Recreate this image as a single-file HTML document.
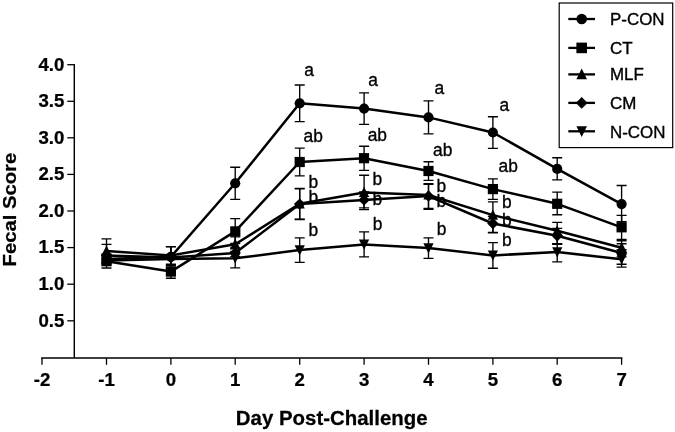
<!DOCTYPE html>
<html><head><meta charset="utf-8"><title>Fecal Score</title>
<style>html,body{margin:0;padding:0;background:#fff}svg{display:block}</style></head>
<body><svg width="675" height="432" viewBox="0 0 675 432">
<rect width="675" height="432" fill="#fff"/>
<g stroke="#000" fill="none" stroke-width="1.45">
<path d="M74.3 64.0V357.9"/>
<path d="M41.2 357.9H622.4"/>
</g>
<g stroke="#000" fill="none" stroke-width="1.3">
<path d="M67.3 320.8H74.3"/>
<path d="M67.3 284.2H74.3"/>
<path d="M67.3 247.6H74.3"/>
<path d="M67.3 211.0H74.3"/>
<path d="M67.3 174.4H74.3"/>
<path d="M67.3 137.8H74.3"/>
<path d="M67.3 101.3H74.3"/>
<path d="M67.3 64.7H74.3"/>
<path d="M42.0 357.9V364.8"/>
<path d="M106.5 357.9V364.8"/>
<path d="M170.9 357.9V364.8"/>
<path d="M235.2 357.9V364.8"/>
<path d="M299.7 357.9V364.8"/>
<path d="M364.1 357.9V364.8"/>
<path d="M428.5 357.9V364.8"/>
<path d="M492.9 357.9V364.8"/>
<path d="M557.2 357.9V364.8"/>
<path d="M621.6 357.9V364.8"/>
</g>
<g stroke="#000" fill="none" stroke-width="1.35">
<path d="M106.5 254.6V263.4M101.5 254.6H111.5M101.5 263.4H111.5"/>
<path d="M170.9 246.6V267.1M165.9 246.6H175.9M165.9 267.1H175.9"/>
<path d="M235.2 167.2V199.4M230.2 167.2H240.2M230.2 199.4H240.2"/>
<path d="M299.7 85.0V121.6M294.7 85.0H304.7M294.7 121.6H304.7"/>
<path d="M364.1 92.9V124.3M359.1 92.9H369.1M359.1 124.3H369.1"/>
<path d="M428.5 100.9V133.9M423.5 100.9H433.5M423.5 133.9H433.5"/>
<path d="M492.9 116.7V148.4M487.9 116.7H497.9M487.9 148.4H497.9"/>
<path d="M557.2 157.7V179.9M552.2 157.7H562.2M552.2 179.9H562.2"/>
<path d="M621.6 185.5V221.7M616.6 185.5H626.6M616.6 221.7H626.6"/>
<path d="M106.5 253.9V268.0M101.5 253.9H111.5M101.5 268.0H111.5"/>
<path d="M170.9 265.0V278.2M165.9 265.0H175.9M165.9 278.2H175.9"/>
<path d="M235.2 218.6V243.5M230.2 218.6H240.2M230.2 243.5H240.2"/>
<path d="M299.7 148.1V175.9M294.7 148.1H304.7M294.7 175.9H304.7"/>
<path d="M364.1 146.2V170.3M359.1 146.2H369.1M359.1 170.3H369.1"/>
<path d="M428.5 161.7V180.3M423.5 161.7H433.5M423.5 180.3H433.5"/>
<path d="M492.9 178.8V199.3M487.9 178.8H497.9M487.9 199.3H497.9"/>
<path d="M557.2 192.1V214.7M552.2 192.1H562.2M552.2 214.7H562.2"/>
<path d="M621.6 215.3V239.4M616.6 215.3H626.6M616.6 239.4H626.6"/>
<path d="M106.5 238.8V262.0M101.5 238.8H111.5M101.5 262.0H111.5"/>
<path d="M170.9 246.6V264.2M165.9 246.6H175.9M165.9 264.2H175.9"/>
<path d="M235.2 236.9V251.5M230.2 236.9H240.2M230.2 251.5H240.2"/>
<path d="M299.7 188.4V219.1M294.7 188.4H304.7M294.7 219.1H304.7"/>
<path d="M364.1 175.2V209.6M359.1 175.2H369.1M359.1 209.6H369.1"/>
<path d="M428.5 183.6V208.5M423.5 183.6H433.5M423.5 208.5H433.5"/>
<path d="M492.9 201.9V232.7M487.9 201.9H497.9M487.9 232.7H497.9"/>
<path d="M557.2 222.4V243.7M552.2 222.4H562.2M552.2 243.7H562.2"/>
<path d="M621.6 240.7V256.8M616.6 240.7H626.6M616.6 256.8H626.6"/>
<path d="M106.5 244.4V262.7M101.5 244.4H111.5M101.5 262.7H111.5"/>
<path d="M170.9 246.6V268.5M165.9 246.6H175.9M165.9 268.5H175.9"/>
<path d="M235.2 247.8V256.6M230.2 247.8H240.2M230.2 256.6H240.2"/>
<path d="M299.7 188.8V219.5M294.7 188.8H304.7M294.7 219.5H304.7"/>
<path d="M364.1 191.8V207.9M359.1 191.8H369.1M359.1 207.9H369.1"/>
<path d="M428.5 184.4V209.3M423.5 184.4H433.5M423.5 209.3H433.5"/>
<path d="M492.9 216.2V232.3M487.9 216.2H497.9M487.9 232.3H497.9"/>
<path d="M557.2 228.4V244.4M552.2 228.4H562.2M552.2 244.4H562.2"/>
<path d="M621.6 243.7V264.2M616.6 243.7H626.6M616.6 264.2H626.6"/>
<path d="M106.5 255.4V264.9M101.5 255.4H111.5M101.5 264.9H111.5"/>
<path d="M170.9 255.4V265.6M165.9 255.4H175.9M165.9 265.6H175.9"/>
<path d="M235.2 248.8V267.8M230.2 248.8H240.2M230.2 267.8H240.2"/>
<path d="M299.7 237.9V262.3M294.7 237.9H304.7M294.7 262.3H304.7"/>
<path d="M364.1 231.9V256.8M359.1 231.9H369.1M359.1 256.8H369.1"/>
<path d="M428.5 237.8V258.3M423.5 237.8H433.5M423.5 258.3H433.5"/>
<path d="M492.9 242.6V268.2M487.9 242.6H497.9M487.9 268.2H497.9"/>
<path d="M557.2 243.7V261.8M552.2 243.7H562.2M552.2 261.8H562.2"/>
<path d="M621.6 249.7V267.1M616.6 249.7H626.6M616.6 267.1H626.6"/>
</g>
<g stroke="#000" fill="none" stroke-width="2.5" stroke-linejoin="round">
<polyline points="106.5,259.0 170.9,256.8 235.2,183.3 299.7,103.3 364.1,108.6 428.5,117.4 492.9,132.5 557.2,168.9 621.6,204.1"/>
<polyline points="106.5,261.2 170.9,271.6 235.2,231.4 299.7,162.0 364.1,158.2 428.5,171.0 492.9,189.1 557.2,203.8 621.6,227.3"/>
<polyline points="106.5,251.0 170.9,255.4 235.2,244.2 299.7,203.8 364.1,192.4 428.5,195.0 492.9,215.1 557.2,230.8 621.6,247.7"/>
<polyline points="106.5,255.4 170.9,257.6 235.2,253.0 299.7,204.1 364.1,199.9 428.5,196.1 492.9,223.5 557.2,235.8 621.6,253.0"/>
<polyline points="106.5,260.5 170.9,259.0 235.2,258.3 299.7,250.1 364.1,244.4 428.5,248.1 492.9,255.4 557.2,252.1 621.6,259.2"/>
</g>
<g fill="#000">
<circle cx="106.5" cy="259.0" r="5.1"/>
<circle cx="170.9" cy="256.8" r="5.1"/>
<circle cx="235.2" cy="183.3" r="5.1"/>
<circle cx="299.7" cy="103.3" r="5.1"/>
<circle cx="364.1" cy="108.6" r="5.1"/>
<circle cx="428.5" cy="117.4" r="5.1"/>
<circle cx="492.9" cy="132.5" r="5.1"/>
<circle cx="557.2" cy="168.9" r="5.1"/>
<circle cx="621.6" cy="204.1" r="5.1"/>
<rect x="101.4" y="256.1" width="10.2" height="10.2"/>
<rect x="165.8" y="266.5" width="10.2" height="10.2"/>
<rect x="230.2" y="226.3" width="10.2" height="10.2"/>
<rect x="294.6" y="156.9" width="10.2" height="10.2"/>
<rect x="358.9" y="153.1" width="10.2" height="10.2"/>
<rect x="423.4" y="165.9" width="10.2" height="10.2"/>
<rect x="487.8" y="184.0" width="10.2" height="10.2"/>
<rect x="552.1" y="198.7" width="10.2" height="10.2"/>
<rect x="616.5" y="222.2" width="10.2" height="10.2"/>
<polygon points="101.4,255.6 111.5,255.6 106.5,245.4"/>
<polygon points="165.8,260.0 176.0,260.0 170.9,249.8"/>
<polygon points="230.2,248.8 240.3,248.8 235.2,238.6"/>
<polygon points="294.6,208.4 304.8,208.4 299.7,198.2"/>
<polygon points="358.9,197.0 369.2,197.0 364.1,186.8"/>
<polygon points="423.4,199.6 433.6,199.6 428.5,189.4"/>
<polygon points="487.8,219.7 498.0,219.7 492.9,209.5"/>
<polygon points="552.1,235.4 562.4,235.4 557.2,225.2"/>
<polygon points="616.5,252.3 626.8,252.3 621.6,242.1"/>
<polygon points="100.8,255.4 106.5,249.7 112.1,255.4 106.5,261.1"/>
<polygon points="165.2,257.6 170.9,251.9 176.6,257.6 170.9,263.3"/>
<polygon points="229.6,253.0 235.2,247.3 240.9,253.0 235.2,258.7"/>
<polygon points="293.9,204.1 299.7,198.4 305.4,204.1 299.7,209.8"/>
<polygon points="358.3,199.9 364.1,194.2 369.8,199.9 364.1,205.6"/>
<polygon points="422.8,196.1 428.5,190.4 434.2,196.1 428.5,201.8"/>
<polygon points="487.2,223.5 492.9,217.8 498.6,223.5 492.9,229.2"/>
<polygon points="551.5,235.8 557.2,230.1 563.0,235.8 557.2,241.5"/>
<polygon points="615.9,253.0 621.6,247.3 627.4,253.0 621.6,258.7"/>
<polygon points="101.4,255.6 111.5,255.6 106.5,265.8"/>
<polygon points="165.8,254.2 176.0,254.2 170.9,264.4"/>
<polygon points="230.2,253.4 240.3,253.4 235.2,263.6"/>
<polygon points="294.6,245.2 304.8,245.2 299.7,255.4"/>
<polygon points="358.9,239.5 369.2,239.5 364.1,249.7"/>
<polygon points="423.4,243.2 433.6,243.2 428.5,253.4"/>
<polygon points="487.8,250.5 498.0,250.5 492.9,260.7"/>
<polygon points="552.1,247.2 562.4,247.2 557.2,257.4"/>
<polygon points="616.5,254.3 626.8,254.3 621.6,264.5"/>
</g>
<g font-family="Liberation Sans, Arial, sans-serif" font-weight="bold" font-size="18" fill="#000" stroke="#000" stroke-width="0.25">
<text transform="translate(64.3 326.6) scale(1.035 1)" text-anchor="end">0.5</text>
<text transform="translate(64.3 290.0) scale(1.035 1)" text-anchor="end">1.0</text>
<text transform="translate(64.3 253.4) scale(1.035 1)" text-anchor="end">1.5</text>
<text transform="translate(64.3 216.8) scale(1.035 1)" text-anchor="end">2.0</text>
<text transform="translate(64.3 180.2) scale(1.035 1)" text-anchor="end">2.5</text>
<text transform="translate(64.3 143.6) scale(1.035 1)" text-anchor="end">3.0</text>
<text transform="translate(64.3 107.1) scale(1.035 1)" text-anchor="end">3.5</text>
<text transform="translate(64.3 70.5) scale(1.035 1)" text-anchor="end">4.0</text>
<text transform="translate(42.0 385.5) scale(1.035 1)" text-anchor="middle">-2</text>
<text transform="translate(106.5 385.5) scale(1.035 1)" text-anchor="middle">-1</text>
<text transform="translate(170.9 385.5) scale(1.035 1)" text-anchor="middle">0</text>
<text transform="translate(235.2 385.5) scale(1.035 1)" text-anchor="middle">1</text>
<text transform="translate(299.7 385.5) scale(1.035 1)" text-anchor="middle">2</text>
<text transform="translate(364.1 385.5) scale(1.035 1)" text-anchor="middle">3</text>
<text transform="translate(428.5 385.5) scale(1.035 1)" text-anchor="middle">4</text>
<text transform="translate(492.9 385.5) scale(1.035 1)" text-anchor="middle">5</text>
<text transform="translate(557.2 385.5) scale(1.035 1)" text-anchor="middle">6</text>
<text transform="translate(621.6 385.5) scale(1.035 1)" text-anchor="middle">7</text>
<text transform="translate(331.7 425) scale(1.058 1)" text-anchor="middle" font-size="19.3">Day Post-Challenge</text>
<text transform="translate(16.2 209.6) rotate(-90) scale(1.067 1)" text-anchor="middle" font-size="19">Fecal Score</text>
</g>
<g font-family="Liberation Sans, Arial, sans-serif" font-size="18.5" fill="#000" stroke="#000" stroke-width="0.35">
<text transform="translate(304.3 76) scale(0.94 1)">a</text>
<text transform="translate(303.5 142) scale(0.94 1)">ab</text>
<text transform="translate(308.6 188) scale(0.94 1)">b</text>
<text transform="translate(308.6 203) scale(0.94 1)">b</text>
<text transform="translate(308.6 236) scale(0.94 1)">b</text>
<text transform="translate(368.3 86) scale(0.94 1)">a</text>
<text transform="translate(367.7 141) scale(0.94 1)">ab</text>
<text transform="translate(372.6 185) scale(0.94 1)">b</text>
<text transform="translate(372.6 205) scale(0.94 1)">b</text>
<text transform="translate(372.8 230) scale(0.94 1)">b</text>
<text transform="translate(434.4 94) scale(0.94 1)">a</text>
<text transform="translate(433.1 156) scale(0.94 1)">ab</text>
<text transform="translate(436.4 192) scale(0.94 1)">b</text>
<text transform="translate(436.4 207) scale(0.94 1)">b</text>
<text transform="translate(436.8 235) scale(0.94 1)">b</text>
<text transform="translate(499.5 111) scale(0.94 1)">a</text>
<text transform="translate(498.5 172) scale(0.94 1)">ab</text>
<text transform="translate(502 208) scale(0.94 1)">b</text>
<text transform="translate(502 226) scale(0.94 1)">b</text>
<text transform="translate(502 246) scale(0.94 1)">b</text>
</g>
<rect x="559.2" y="3.0" width="113.5" height="144.6" fill="#fff" stroke="#000" stroke-width="1.2"/>
<g font-family="Liberation Sans, Arial, sans-serif" font-size="16.4" fill="#000" stroke="#000" stroke-width="0.35">
<path d="M568.3 19.0H595" stroke="#000" stroke-width="2.3" fill="none"/>
<circle cx="581.7" cy="19.0" r="5.3" stroke="none"/>
<text transform="translate(610.0 25.4) scale(1.033 1)">P-CON</text>
<path d="M568.3 47.9H595" stroke="#000" stroke-width="2.3" fill="none"/>
<rect x="576.4" y="42.6" width="10.6" height="10.6" stroke="none"/>
<text transform="translate(610.0 54) scale(1.033 1)">CT</text>
<path d="M568.3 74.4H595" stroke="#000" stroke-width="2.3" fill="none"/>
<polygon points="576.4,79.2 587.0,79.2 581.7,68.6" stroke="none"/>
<text transform="translate(610.0 80.4) scale(1.033 1)">MLF</text>
<path d="M568.3 102.9H595" stroke="#000" stroke-width="2.3" fill="none"/>
<polygon points="575.8,102.9 581.7,97.0 587.6,102.9 581.7,108.8" stroke="none"/>
<text transform="translate(610.0 109.4) scale(1.033 1)">CM</text>
<path d="M568.3 131.3H595" stroke="#000" stroke-width="2.3" fill="none"/>
<polygon points="576.4,126.3 587.0,126.3 581.7,136.9" stroke="none"/>
<text transform="translate(610.0 137.6) scale(1.033 1)">N-CON</text>
</g>
</svg></body></html>
